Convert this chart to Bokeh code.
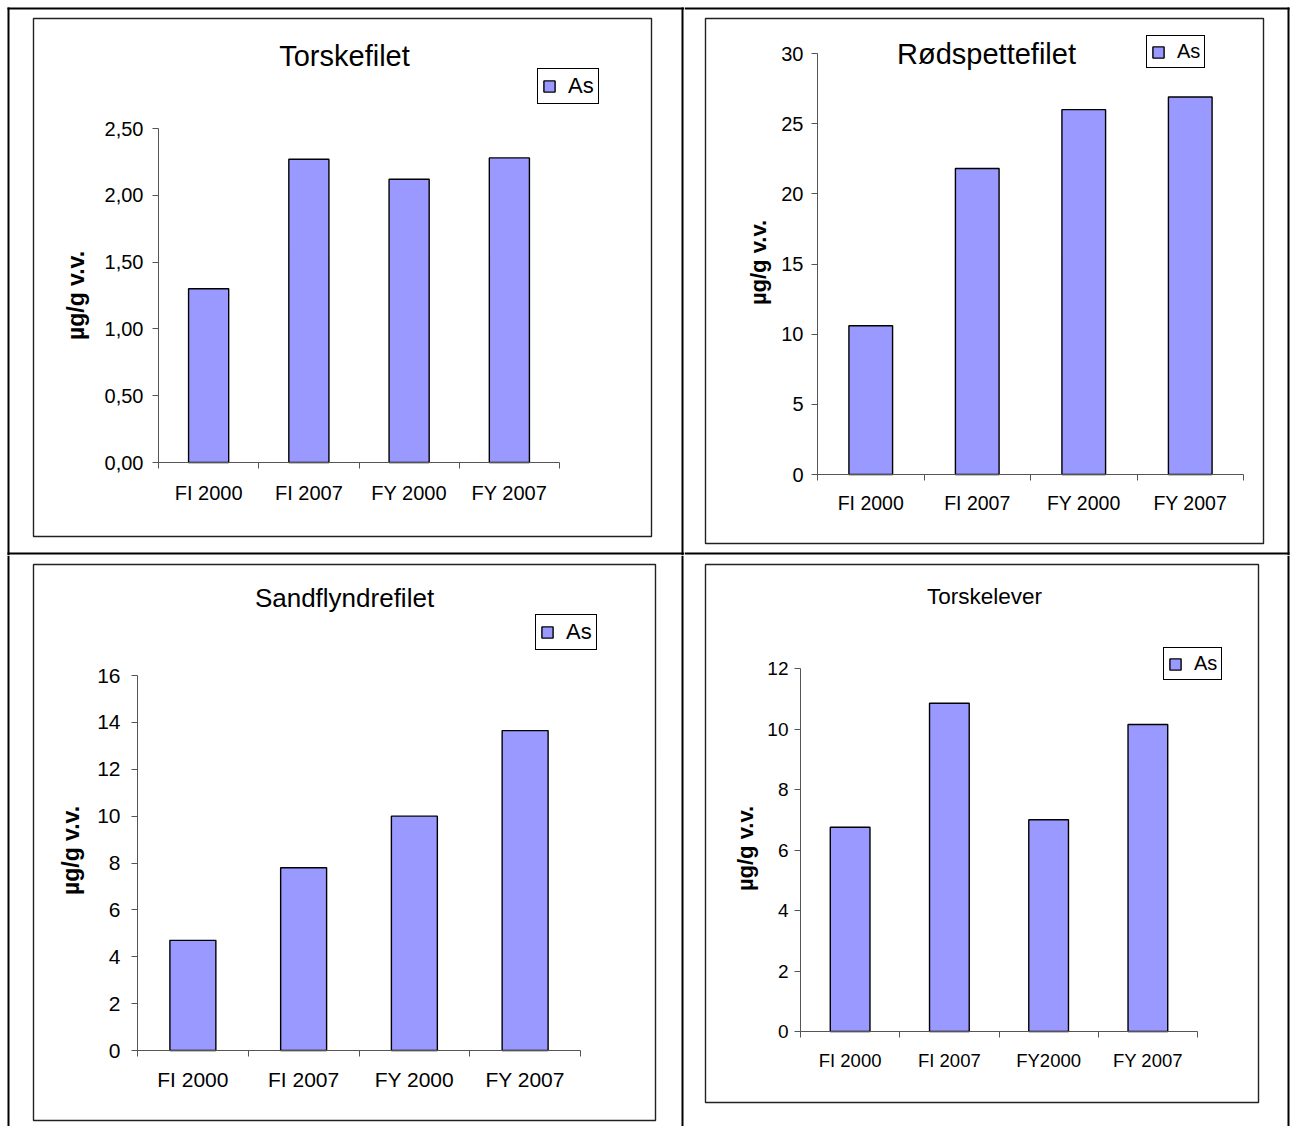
import math
from bokeh.plotting import figure
from bokeh.models import (LinearAxis, FixedTicker, Range1d, Label, BoxAnnotation)
from bokeh.layouts import column, row
from bokeh.embed import file_html
from bokeh.resources import INLINE

# ---------------- data ----------------
categories = ["FI 2000", "FI 2007", "FY 2000", "FY 2007"]
categories_lever = ["FI 2000", "FI 2007", "FY2000", "FY 2007"]
series_name = "As"
y_axis_title = "µg/g v.v."

torskefilet_title = "Torskefilet"
torskefilet_as = [1.30, 2.27, 2.12, 2.28]
torskefilet_ticks = [0, 0.5, 1.0, 1.5, 2.0, 2.5]
torskefilet_tick_labels = ["0,00", "0,50", "1,00", "1,50", "2,00", "2,50"]

rodspette_title = "Rødspettefilet"
rodspette_as = [10.6, 21.8, 26.0, 26.9]
rodspette_ticks = [0, 5, 10, 15, 20, 25, 30]
rodspette_tick_labels = ["0", "5", "10", "15", "20", "25", "30"]

sandflyndre_title = "Sandflyndrefilet"
sandflyndre_as = [4.7, 7.8, 10.0, 13.65]
sandflyndre_ticks = [0, 2, 4, 6, 8, 10, 12, 14, 16]
sandflyndre_tick_labels = ["0", "2", "4", "6", "8", "10", "12", "14", "16"]

torskelever_title = "Torskelever"
torskelever_as = [6.75, 10.85, 7.0, 10.15]
torskelever_ticks = [0, 2, 4, 6, 8, 10, 12]
torskelever_tick_labels = ["0", "2", "4", "6", "8", "10", "12"]

# ---------------- style / layout (page pixels) ----------------
FONT = "Liberation Sans"
BAR_FILL = "#9999FF"
AXIS = "#555555"
COL_SPLIT = 684      # left column width
ROW_SPLIT = 555      # top row height
PAGE_W, PAGE_H = 1292, 1126


def make_chart(origin, W, H, plot, box, title_pos, legend_box, ylab_pos, fonts, gaps, bar_w,
               title, values, cats, ticks, tick_labels, rules):
    ox, oy = origin

    def sx(x):
        return x - ox

    def sy(y):          # page y (from top) -> screen y (from cell bottom)
        return H - (y - oy)

    pl, pr, py0, pytop = sx(plot[0]), sx(plot[1]), plot[2] - oy, plot[3] - oy
    ymax = ticks[-1]
    n = len(cats)
    ux = (pr - pl) / n
    uy = (py0 - pytop) / ymax
    x_start = -pl / ux
    x_end = n + (W - pr) / ux
    y_start = -(H - py0) / uy
    y_end = ymax + pytop / uy

    p = figure(width=W, height=H, x_range=Range1d(x_start, x_end), y_range=Range1d(y_start, y_end),
               output_backend="svg", toolbar_location=None, min_border=0,
               x_axis_type=None, y_axis_type=None, title_location=None,
               outline_line_color=None, background_fill_color="white", border_fill_color="white")

    def sbox(l, t, r, b, **kw):
        return BoxAnnotation(left=sx(l), right=sx(r), top=sy(t), bottom=sy(b),
                             left_units="screen", right_units="screen",
                             top_units="screen", bottom_units="screen", **kw)

    # table rules (thin filled strips, page coords)
    for (l, t, r, b) in rules:
        p.add_layout(sbox(l, t, r, b, fill_color="black", fill_alpha=1,
                          line_color=None, level="underlay"))

    # chart area box
    p.add_layout(sbox(*box, fill_color=None, fill_alpha=0, line_color="#222222",
                      line_alpha=1, line_width=1.4, level="underlay"))

    xs = [i + 0.5 for i in range(n)]
    p.vbar(x=xs, top=values, bottom=0, width=bar_w, fill_color=BAR_FILL,
           line_color="black", line_width=1.4, legend_label=series_name)

    # y axis
    yaxis = LinearAxis(fixed_location=0, bounds=(0, ymax),
                       ticker=FixedTicker(ticks=ticks, minor_ticks=[]),
                       major_label_overrides={t: s for t, s in zip(ticks, tick_labels)},
                       major_tick_out=6, major_tick_in=0, minor_tick_out=0, minor_tick_in=0,
                       major_label_standoff=gaps[0],
                       axis_line_color=AXIS, major_tick_line_color=AXIS, minor_tick_line_color=None,
                       major_label_text_font=FONT, major_label_text_font_size=f"{fonts['tick']}px",
                       major_label_text_color="black")
    p.add_layout(yaxis, "left")

    # category axis: labels at category centres, tick marks between categories
    xaxis = LinearAxis(fixed_location=0, bounds=(0, n),
                       ticker=FixedTicker(ticks=xs, minor_ticks=list(range(n + 1))),
                       major_label_overrides={x: c for x, c in zip(xs, cats)},
                       major_tick_out=0, major_tick_in=0, major_tick_line_color=None,
                       minor_tick_out=6, minor_tick_in=0, minor_tick_line_color=AXIS,
                       axis_line_color=AXIS,
                       major_label_standoff=gaps[1],
                       major_label_text_font=FONT, major_label_text_font_size=f"{fonts['xlab']}px",
                       major_label_text_color="black")
    p.add_layout(xaxis, "below")

    # title
    p.add_layout(Label(x=sx(title_pos[0]), y=sy(title_pos[1]), x_units="screen", y_units="screen",
                       text=title, text_align="center", text_baseline="middle",
                       text_font=FONT, text_font_size=f"{fonts['title']}px", text_color="black"))
    # y axis title
    p.add_layout(Label(x=sx(ylab_pos[0]), y=sy(ylab_pos[1]), x_units="screen", y_units="screen",
                       text=y_axis_title, angle=math.pi / 2, text_align="center", text_baseline="middle",
                       text_font=FONT, text_font_style="bold", text_font_size=f"{fonts['ylab']}px",
                       text_color="black"))

    # legend
    lg = p.legend[0]
    ll, lt, lb = legend_box
    lg.location = (sx(ll), sy(lb))
    lg.margin = 0
    lg.padding = 4
    lg.spacing = 0
    lg.glyph_width = 14
    lg.glyph_height = 14
    lg.label_standoff = 12
    lg.label_text_font = FONT
    lg.label_text_font_size = f"{fonts['legend']}px"
    lg.label_text_color = "black"
    lg.border_line_color = "black"
    lg.border_line_width = 1
    lg.border_line_alpha = 1
    lg.background_fill_color = "white"
    lg.background_fill_alpha = 1
    return p


WL, WR = COL_SPLIT, PAGE_W - COL_SPLIT
HT, HB = ROW_SPLIT, PAGE_H - ROW_SPLIT

p1 = make_chart((0, 0), WL, HT, plot=(158, 559, 462, 128), box=(33, 18, 651, 536),
                title_pos=(344, 55), legend_box=(537, 70, 104), ylab_pos=(75, 295),
                fonts=dict(title=29, tick=20, xlab=20, legend=22, ylab=23), gaps=(9, 13), bar_w=0.40,
                title=torskefilet_title, values=torskefilet_as, cats=categories,
                ticks=torskefilet_ticks, tick_labels=torskefilet_tick_labels,
                rules=[(7, 7, 9, 555), (7, 7, 684, 9), (681, 7, 683, 555), (7, 552, 684, 554)])

p2 = make_chart((COL_SPLIT, 0), WR, HT, plot=(817, 1243, 474, 53), box=(705, 18, 1263, 543),
                title_pos=(986, 53), legend_box=(1146, 34, 68), ylab_pos=(758, 262),
                fonts=dict(title=29, tick=20, xlab=19.5, legend=20, ylab=22), gaps=(8, 11), bar_w=0.41,
                title=rodspette_title, values=rodspette_as, cats=categories,
                ticks=rodspette_ticks, tick_labels=rodspette_tick_labels,
                rules=[(684, 7, 1289, 9), (1287, 7, 1289, 555), (684, 552, 1289, 554)])

p3 = make_chart((0, ROW_SPLIT), WL, HB, plot=(137, 580, 1050, 675), box=(33, 564, 655, 1120),
                title_pos=(344, 597), legend_box=(535, 613, 650), ylab_pos=(70, 850),
                fonts=dict(title=26, tick=21, xlab=21, legend=22, ylab=23), gaps=(11, 11), bar_w=0.415,
                title=sandflyndre_title, values=sandflyndre_as, cats=categories,
                ticks=sandflyndre_ticks, tick_labels=sandflyndre_tick_labels,
                rules=[(7, 555, 9, 1126), (681, 555, 683, 1126)])

p4 = make_chart((COL_SPLIT, ROW_SPLIT), WR, HB, plot=(800, 1197, 1031, 668), box=(705, 564, 1258, 1102),
                title_pos=(984, 596), legend_box=(1163, 645, 680), ylab_pos=(745, 848),
                fonts=dict(title=22.5, tick=19, xlab=18.5, legend=20, ylab=22), gaps=(6, 12), bar_w=0.40,
                title=torskelever_title, values=torskelever_as, cats=categories_lever,
                ticks=torskelever_ticks, tick_labels=torskelever_tick_labels,
                rules=[(1287, 555, 1289, 1126)])

layout = column(row(p1, p2, spacing=0), row(p3, p4, spacing=0), spacing=0)

open("out.html", "w").write(file_html(layout, INLINE, title="As"))
